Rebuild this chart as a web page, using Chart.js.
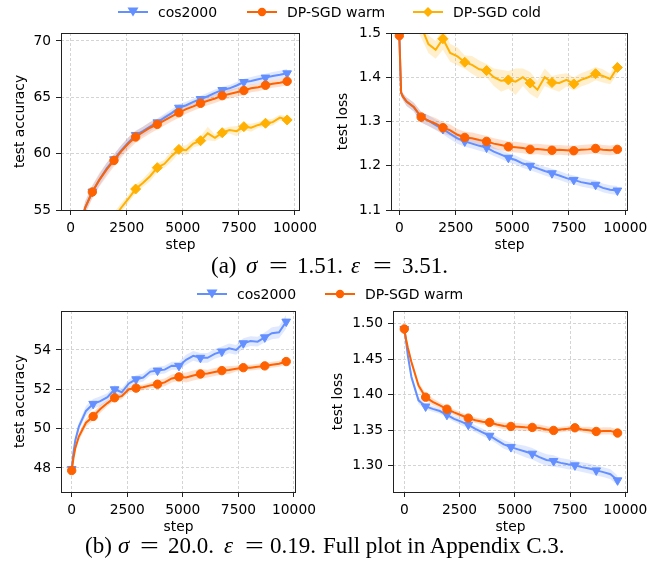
<!DOCTYPE html>
<html>
<head>
<meta charset="utf-8">
<script src="https://cdn.jsdelivr.net/npm/chart.js@4.4.1/dist/chart.umd.min.js"></script>
<style>
  body { margin: 0; background: #fff; }
  #wrap { position: relative; width: 657px; height: 561px; overflow: hidden; }
  canvas { position: absolute; }
  .leg { position: absolute; display: flex; align-items: center; font: 14px "DejaVu Sans"; color: #000; line-height: 16px; white-space: nowrap; }
  .leg svg { margin-right: 10px; }
  .t { position: absolute; font: 23px/23px "Liberation Serif"; color: #000; white-space: nowrap; }
  .t.i { font-style: italic; }
  .t.eq { transform: scaleX(1.45); transform-origin: center; }
</style>
</head>
<body>
<div id="wrap">
  <canvas id="c1" width="328" height="236" style="left:0;top:18px"></canvas>
  <canvas id="c2" width="327" height="236" style="left:330px;top:18px"></canvas>
  <canvas id="c3" width="328" height="240" style="left:0;top:296px"></canvas>
  <canvas id="c4" width="327" height="240" style="left:330px;top:296px"></canvas>

  <div class="leg" style="left:118px;top:4px"><svg width="30" height="16"><line x1="0" y1="8" x2="30" y2="8" stroke="#648FFF" stroke-width="2"/><polygon points="9.5,3.5 20.5,3.5 15,12.5" fill="#648FFF"/></svg>cos2000</div>
  <div class="leg" style="left:247px;top:4px"><svg width="30" height="16"><line x1="0" y1="8" x2="30" y2="8" stroke="#FE6100" stroke-width="2"/><circle cx="15" cy="8" r="4.2" fill="#FE6100"/></svg>DP-SGD warm</div>
  <div class="leg" style="left:413px;top:4px"><svg width="30" height="16"><line x1="0" y1="8" x2="30" y2="8" stroke="#FFB000" stroke-width="2"/><polygon points="15,3 20,8 15,13 10,8" fill="#FFB000"/></svg>DP-SGD cold</div>

  <div class="leg" style="left:197px;top:286px"><svg width="30" height="16"><line x1="0" y1="8" x2="30" y2="8" stroke="#648FFF" stroke-width="2"/><polygon points="9.5,3.5 20.5,3.5 15,12.5" fill="#648FFF"/></svg>cos2000</div>
  <div class="leg" style="left:325px;top:286px"><svg width="30" height="16"><line x1="0" y1="8" x2="30" y2="8" stroke="#FE6100" stroke-width="2"/><circle cx="15" cy="8" r="4.2" fill="#FE6100"/></svg>DP-SGD warm</div>

  <!-- caption (a), baseline ~273 -->
  <span class="t" style="left:211px;top:254px">(a)</span>
  <span class="t i" style="left:246px;top:254px">σ</span>
  <span class="t eq" style="left:272px;top:254px">=</span>
  <span class="t" style="left:297px;top:254px">1.51.</span>
  <span class="t i" style="left:351px;top:254px">ε</span>
  <span class="t eq" style="left:376px;top:254px">=</span>
  <span class="t" style="left:402px;top:254px">3.51.</span>

  <!-- caption (b), baseline ~553 -->
  <span class="t" style="left:85px;top:534px">(b)</span>
  <span class="t i" style="left:118px;top:534px">σ</span>
  <span class="t eq" style="left:143px;top:534px">=</span>
  <span class="t" style="left:168px;top:534px">20.0.</span>
  <span class="t i" style="left:224px;top:534px">ε</span>
  <span class="t eq" style="left:248px;top:534px">=</span>
  <span class="t" style="left:270px;top:534px">0.19.</span>
  <span class="t" style="left:323px;top:534px">Full plot in Appendix C.3.</span>
</div>
<script>
// evaluation steps (x) and the steps carrying a marker
const steps = [0, 80, 161, 322, 643, 965, 1287, 1608, 1930, 2252, 2573, 2895, 3217, 3538, 3860, 4182, 4503, 4825, 5147, 5468, 5790, 6112, 6433, 6755, 7077, 7398, 7720, 8042, 8363, 8685, 9007, 9328, 9650];
const markerSteps = [0, 965, 1930, 2895, 3860, 4825, 5790, 6755, 7720, 8685, 9650];
const xTicks = [0, 2500, 5000, 7500, 10000];

// (a) sigma = 1.51 : test accuracy
const accCosA  = [47.0, 49.0, 50.5, 52.6, 55.2, 56.63, 57.7, 58.7, 59.5, 60.3, 61.0, 61.66, 62.0, 62.4, 62.78, 63.2, 63.6, 64.08, 64.3, 64.6, 64.85, 65.1, 65.4, 65.65, 65.8, 66.05, 66.36, 66.45, 66.6, 66.75, 66.9, 67.0, 67.13];
const accWarmA = [47.0, 49.0, 50.4, 52.5, 55.2, 56.6, 57.7, 58.6, 59.4, 60.2, 60.9, 61.48, 61.9, 62.3, 62.6, 62.95, 63.3, 63.64, 63.95, 64.2, 64.47, 64.7, 64.9, 65.15, 65.3, 65.45, 65.6, 65.8, 65.9, 66.07, 66.2, 66.3, 66.42];
const accColdA = [40.0, 41.0, 42.0, 44.0, 47.0, 49.5, 51.5, 53.0, 54.3, 55.2, 56.0, 56.86, 57.4, 58.0, 58.76, 59.1, 59.8, 60.38, 60.3, 60.9, 61.15, 61.8, 61.4, 61.86, 62.1, 62.0, 62.4, 62.3, 62.55, 62.7, 62.8, 63.2, 62.99];
const sdAccCosA  = [0.3, 0.3, 0.4, 0.5, 0.5, 0.5, 0.5, 0.5, 0.45, 0.45, 0.45, 0.4, 0.4, 0.4, 0.35, 0.35, 0.35, 0.3, 0.3, 0.3, 0.3, 0.3, 0.3, 0.3, 0.3, 0.3, 0.3, 0.35, 0.35, 0.35, 0.35, 0.35, 0.4];
const sdAccWarmA = [0.3, 0.3, 0.4, 0.5, 0.6, 0.6, 0.6, 0.6, 0.55, 0.55, 0.55, 0.5, 0.5, 0.5, 0.45, 0.45, 0.45, 0.45, 0.4, 0.4, 0.4, 0.4, 0.4, 0.4, 0.4, 0.4, 0.4, 0.35, 0.35, 0.35, 0.35, 0.35, 0.35];
const sdAccColdA = [0.5, 0.5, 0.5, 0.5, 0.5, 0.5, 0.5, 0.5, 0.5, 0.4, 0.35, 0.4, 0.35, 0.45, 0.4, 0.35, 0.5, 0.3, 0.45, 0.35, 0.4, 0.6, 0.3, 0.35, 0.3, 0.45, 0.3, 0.35, 0.25, 0.3, 0.3, 0.25, 0.3];

// (a) sigma = 1.51 : test loss
const lossCosA  = [1.494, 1.365, 1.356, 1.345, 1.332, 1.31, 1.302, 1.292, 1.283, 1.272, 1.262, 1.255, 1.25, 1.245, 1.241, 1.232, 1.225, 1.218, 1.213, 1.205, 1.2, 1.194, 1.188, 1.183, 1.178, 1.172, 1.168, 1.163, 1.16, 1.157, 1.15, 1.146, 1.144];
const lossWarmA = [1.494, 1.365, 1.356, 1.345, 1.333, 1.31, 1.302, 1.295, 1.286, 1.28, 1.27, 1.264, 1.262, 1.258, 1.255, 1.25, 1.247, 1.243, 1.242, 1.24, 1.237, 1.238, 1.236, 1.235, 1.236, 1.235, 1.234, 1.236, 1.237, 1.239, 1.236, 1.235, 1.237];
const lossColdA = [1.75, 1.68, 1.64, 1.6, 1.55, 1.515, 1.475, 1.462, 1.487, 1.455, 1.447, 1.434, 1.428, 1.418, 1.415, 1.4, 1.392, 1.394, 1.39, 1.4, 1.387, 1.372, 1.4, 1.388, 1.387, 1.394, 1.385, 1.394, 1.4, 1.408, 1.403, 1.396, 1.422];
const sdLossCosA  = [0.004, 0.008, 0.008, 0.01, 0.01, 0.012, 0.012, 0.012, 0.012, 0.012, 0.012, 0.012, 0.011, 0.011, 0.011, 0.01, 0.01, 0.01, 0.01, 0.01, 0.01, 0.01, 0.01, 0.01, 0.01, 0.01, 0.01, 0.01, 0.01, 0.01, 0.01, 0.01, 0.01];
const sdLossWarmA = [0.004, 0.008, 0.008, 0.01, 0.01, 0.012, 0.012, 0.013, 0.013, 0.013, 0.013, 0.013, 0.013, 0.013, 0.012, 0.012, 0.012, 0.012, 0.012, 0.012, 0.012, 0.012, 0.012, 0.012, 0.011, 0.011, 0.011, 0.011, 0.011, 0.011, 0.011, 0.011, 0.011];
const sdLossColdA = [0.03, 0.03, 0.03, 0.03, 0.03, 0.025, 0.02, 0.02, 0.025, 0.02, 0.02, 0.015, 0.02, 0.02, 0.015, 0.02, 0.025, 0.02, 0.03, 0.02, 0.025, 0.02, 0.02, 0.015, 0.02, 0.015, 0.015, 0.015, 0.015, 0.015, 0.015, 0.012, 0.015];

// (b) sigma = 20.0 : test accuracy
const accCosB  = [47.95, 48.8, 49.4, 50.1, 50.9, 51.26, 51.4, 51.6, 52.0, 51.85, 52.3, 52.51, 52.6, 52.9, 52.95, 53.0, 53.2, 53.19, 53.5, 53.7, 53.6, 53.6, 53.8, 53.92, 54.08, 54.0, 54.34, 54.45, 54.42, 54.64, 54.85, 54.9, 55.44];
const accWarmB = [47.87, 48.5, 49.0, 49.6, 50.3, 50.62, 51.0, 51.3, 51.57, 51.65, 52.0, 52.06, 52.1, 52.2, 52.26, 52.35, 52.55, 52.63, 52.6, 52.7, 52.78, 52.8, 52.88, 52.95, 52.98, 53.05, 53.1, 53.1, 53.15, 53.19, 53.25, 53.3, 53.41];
const sdAccCosB  = [0.05, 0.1, 0.15, 0.2, 0.25, 0.25, 0.25, 0.2, 0.2, 0.2, 0.2, 0.2, 0.2, 0.2, 0.2, 0.2, 0.2, 0.2, 0.25, 0.25, 0.25, 0.25, 0.25, 0.25, 0.25, 0.25, 0.25, 0.25, 0.25, 0.25, 0.3, 0.3, 0.35];
const sdAccWarmB = [0.05, 0.1, 0.15, 0.2, 0.2, 0.2, 0.2, 0.15, 0.15, 0.15, 0.15, 0.15, 0.15, 0.15, 0.2, 0.2, 0.2, 0.2, 0.25, 0.25, 0.25, 0.2, 0.2, 0.2, 0.2, 0.15, 0.15, 0.15, 0.15, 0.15, 0.15, 0.15, 0.15];

// (b) sigma = 20.0 : test loss
const lossCosB  = [1.4925, 1.475, 1.455, 1.425, 1.392, 1.3834, 1.38, 1.377, 1.3717, 1.366, 1.362, 1.3576, 1.352, 1.347, 1.3422, 1.336, 1.33, 1.3262, 1.323, 1.32, 1.3169, 1.312, 1.308, 1.3066, 1.304, 1.302, 1.3005, 1.298, 1.296, 1.2934, 1.291, 1.288, 1.2794];
const lossWarmB = [1.4925, 1.478, 1.466, 1.446, 1.413, 1.3965, 1.39, 1.385, 1.3796, 1.375, 1.371, 1.367, 1.364, 1.362, 1.361, 1.358, 1.356, 1.3553, 1.355, 1.354, 1.3539, 1.353, 1.351, 1.3497, 1.351, 1.352, 1.3534, 1.351, 1.35, 1.3482, 1.349, 1.349, 1.346];
const sdLossCosB  = [0.003, 0.004, 0.005, 0.005, 0.005, 0.004, 0.004, 0.004, 0.004, 0.004, 0.005, 0.005, 0.005, 0.005, 0.005, 0.005, 0.006, 0.006, 0.007, 0.008, 0.008, 0.008, 0.008, 0.008, 0.007, 0.007, 0.007, 0.007, 0.007, 0.007, 0.007, 0.007, 0.007];
const sdLossWarmB = [0.003, 0.004, 0.004, 0.005, 0.005, 0.005, 0.005, 0.004, 0.004, 0.004, 0.004, 0.004, 0.004, 0.004, 0.004, 0.004, 0.005, 0.005, 0.005, 0.005, 0.005, 0.005, 0.005, 0.004, 0.004, 0.004, 0.004, 0.004, 0.005, 0.005, 0.005, 0.005, 0.005];

const BLUE = '#648FFF', ORANGE = '#FE6100', YELLOW = '#FFB000';

Chart.defaults.font.family = 'DejaVu Sans';
Chart.defaults.font.size = 13.8;
Chart.defaults.color = '#000';

// black frame around each plot area, like matplotlib spines
const boxPlugin = {
  id: 'box',
  afterDraw(chart) {
    const a = chart.chartArea, ctx = chart.ctx;
    ctx.save();
    ctx.strokeStyle = '#222';
    ctx.lineWidth = 1;
    ctx.strokeRect(Math.round(a.left) + 0.5, Math.round(a.top) + 0.5, Math.round(a.right - a.left) - 1, Math.round(a.bottom - a.top));
    ctx.restore();
  }
};

function band(mean, sd, color) {
  return [
    { data: steps.map((s, i) => ({ x: s, y: mean[i] - sd[i] })), borderWidth: 0, pointRadius: 0, fill: false, order: 10 },
    { data: steps.map((s, i) => ({ x: s, y: mean[i] + sd[i] })), borderWidth: 0, pointRadius: 0, fill: '-1', backgroundColor: color + '33', order: 10 }
  ];
}

function line(mean, color, shape, rot, r, order) {
  return {
    data: steps.map((s, i) => ({ x: s, y: mean[i] })),
    borderColor: color, backgroundColor: color, borderWidth: 2, tension: 0, fill: false,
    pointStyle: shape, rotation: rot, pointBorderWidth: 1,
    pointBackgroundColor: color, pointBorderColor: color,
    pointRadius: ctx => markerSteps.includes(steps[ctx.dataIndex]) ? r : 0,
    order: order
  };
}

function makeChart(id, datasets, o) {
  new Chart(document.getElementById(id), {
    type: 'line',
    data: { datasets: datasets },
    options: {
      responsive: false, animation: false, events: [],
      layout: { padding: { top: 15, right: o.right, left: 0, bottom: 0 } },
      plugins: { legend: { display: false }, tooltip: { enabled: false } },
      scales: {
        x: {
          type: 'linear', min: o.x[0], max: o.x[1],
          afterBuildTicks: s => { s.ticks = xTicks.map(v => ({ value: v })); },
          afterFit: s => { s.height = 44; },
          ticks: { callback: v => String(v), padding: 5, maxRotation: 0, autoSkip: false },
          grid: { color: '#d4d4d4', tickColor: '#222', tickLength: 5 },
          border: { display: false, dash: [3, 2] },
          title: { display: true, text: 'step', padding: 0 }
        },
        y: {
          type: 'linear', min: o.y[0], max: o.y[1],
          afterBuildTicks: s => { s.ticks = o.yTicks.map(v => ({ value: v })); },
          afterFit: s => { s.width = o.yWidth; },
          ticks: { callback: v => v.toFixed(o.dec), padding: 5, autoSkip: false },
          grid: { color: '#d4d4d4', tickColor: '#222', tickLength: 5 },
          border: { display: false, dash: [3, 2] },
          title: { display: true, text: o.title, padding: { top: o.tpad, bottom: 0 } }
        }
      }
    },
    plugins: [boxPlugin]
  });
}

makeChart('c1', [
  ...band(accCosA, sdAccCosA, BLUE), ...band(accWarmA, sdAccWarmA, ORANGE), ...band(accColdA, sdAccColdA, YELLOW),
  line(accCosA, BLUE, 'triangle', 180, 5, 3), line(accWarmA, ORANGE, 'circle', 0, 4.2, 2), line(accColdA, YELLOW, 'rectRot', 0, 5, 1)
], { x: [-432, 10223], y: [55, 70.71], yTicks: [55, 60, 65, 70], dec: 0, yWidth: 61, right: 28, title: 'test accuracy', tpad: 11.7 });

makeChart('c2', [
  ...band(lossCosA, sdLossCosA, BLUE), ...band(lossWarmA, sdLossWarmA, ORANGE), ...band(lossColdA, sdLossColdA, YELLOW),
  line(lossCosA, BLUE, 'triangle', 180, 5, 3), line(lossWarmA, ORANGE, 'circle', 0, 4.2, 2), line(lossColdA, YELLOW, 'rectRot', 0, 5, 1)
], { x: [-368, 10119], y: [1.1, 1.5], yTicks: [1.1, 1.2, 1.3, 1.4, 1.5], dec: 1, yWidth: 61, right: 29, title: 'test loss', tpad: 5 });

makeChart('c3', [
  ...band(accCosB, sdAccCosB, BLUE), ...band(accWarmB, sdAccWarmB, ORANGE),
  line(accCosB, BLUE, 'triangle', 180, 5, 3), line(accWarmB, ORANGE, 'circle', 0, 4.2, 2)
], { x: [-481, 10090], y: [46.78, 55.98], yTicks: [48, 50, 52, 54], dec: 0, yWidth: 61, right: 32, title: 'test accuracy', tpad: 11.7 });

makeChart('c4', [
  ...band(lossCosB, sdLossCosB, BLUE), ...band(lossWarmB, sdLossWarmB, ORANGE),
  line(lossCosB, BLUE, 'triangle', 180, 5, 3), line(lossWarmB, ORANGE, 'circle', 0, 4.2, 2)
], { x: [-511, 10122], y: [1.263, 1.5178], yTicks: [1.3, 1.35, 1.4, 1.45, 1.5], dec: 2, yWidth: 63, right: 29, title: 'test loss', tpad: 0 });
</script>
</body>
</html>
